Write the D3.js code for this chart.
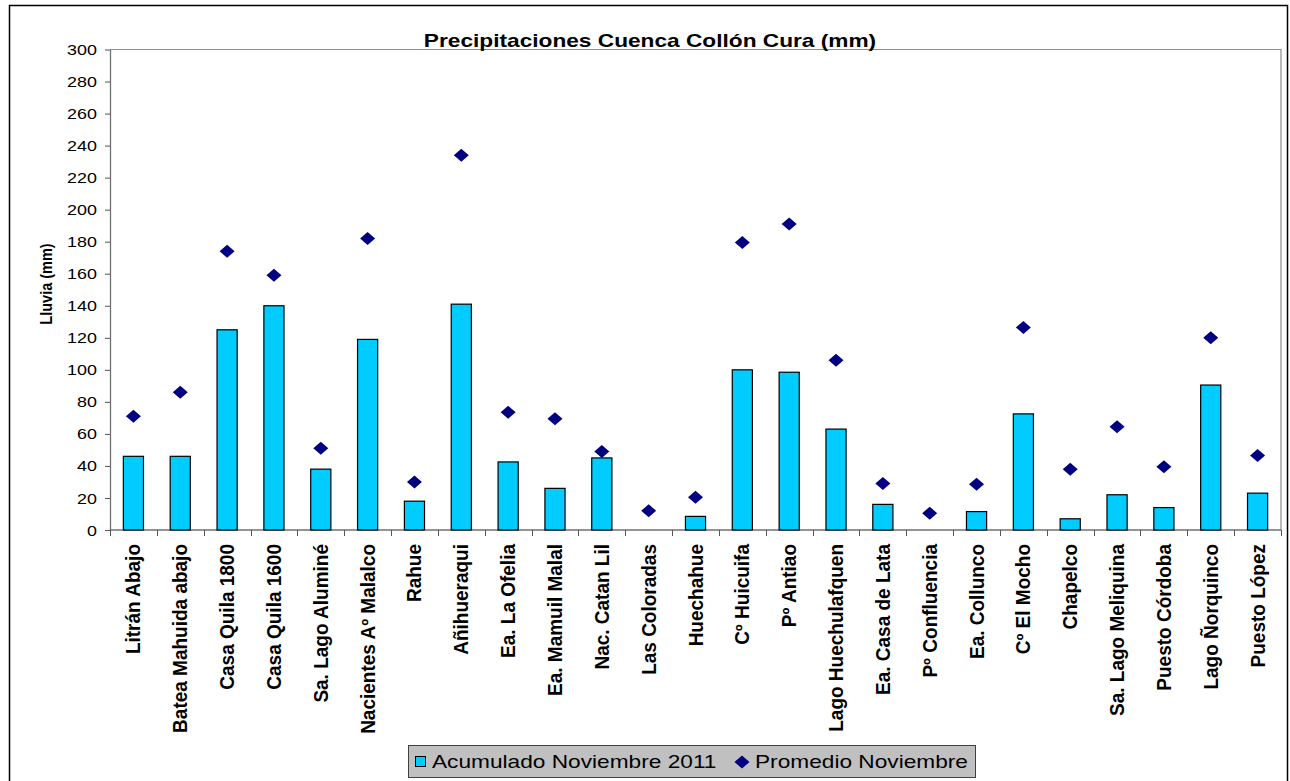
<!DOCTYPE html>
<html>
<head>
<meta charset="utf-8">
<script src="https://cdn.jsdelivr.net/npm/d3@7/dist/d3.min.js"></script>
<style>
  body { margin: 0; background: #fff; }
  text { font-family: Arial, "Liberation Sans", sans-serif; fill: #000; }
</style>
</head>
<body>
<svg id="chart" width="1290" height="781"></svg>
<script>
// Stations of the Collón Cura basin
const stations = [
  "Litrán Abajo", "Batea Mahuida abajo", "Casa Quila 1800", "Casa Quila 1600",
  "Sa. Lago Aluminé", "Nacientes Aº Malalco", "Rahue", "Añihueraqui",
  "Ea. La Ofelia", "Ea. Mamuil Malal", "Nac. Catan Lil", "Las Coloradas",
  "Huechahue", "Cº Huicuifa", "Pº Antiao", "Lago Huechulafquen",
  "Ea. Casa de Lata", "Pº Confluencia", "Ea. Collunco", "Cº El Mocho",
  "Chapelco", "Sa. Lago Meliquina", "Puesto Córdoba", "Lago Ñorquinco", "Puesto López"
];

// Accumulated rainfall, November 2011 (mm); null = no bar
const acumulado = [
  46, 46, 125, 140, 38, 119, 18, 141, 42.5, 26, 45, null,
  8.5, 100, 98.5, 63, 16, null, 11.5, 72.5, 7, 22, 14, 90.5, 23
];

// Historical November average (mm)
const promedio = [
  71, 86, 174, 159, 51, 182, 30, 234, 73.5, 69.5, 49, 12,
  20.5, 179.5, 191, 106, 29, 10.5, 28.5, 126.5, 38, 64.5, 39.5, 120, 46.5
];

const yTicks = [0, 20, 40, 60, 80, 100, 120, 140, 160, 180, 200, 220, 240, 260, 280, 300];

const seriesNames = ["Acumulado Noviembre 2011", "Promedio Noviembre"];
const title = "Precipitaciones Cuenca Collón Cura (mm)";
const yLabel = "Lluvia (mm)";

const svg = d3.select("#chart");

const plot = { left: 110, right: 1281, top: 49.5, bottom: 530 };

// Outer chart frame
svg.append("rect")
  .attr("x", 9.5).attr("y", 5.5)
  .attr("width", 1278).attr("height", 820)
  .attr("fill", "#fff").attr("stroke", "#000").attr("stroke-width", 1.5);

const x = d3.scaleBand()
  .domain(stations)
  .range([plot.left, plot.right])
  .paddingInner(0.57)
  .paddingOuter(0.285);

const slot = d3.scaleBand()
  .domain(stations)
  .range([plot.left, plot.right])
  .padding(0);

const y = d3.scaleLinear()
  .domain([0, 300])
  .range([plot.bottom, plot.top]);

// Plot area border (top and right)
svg.append("path")
  .attr("d", `M${plot.left},${plot.top}H${plot.right}V${plot.bottom}`)
  .attr("fill", "none").attr("stroke", "#8c8c8c").attr("stroke-width", 1.2);

// Y axis
const yAxis = svg.append("g")
  .attr("transform", `translate(${plot.left},0)`)
  .call(d3.axisLeft(y).tickValues(yTicks).tickSize(5).tickSizeOuter(0));
yAxis.select(".domain").attr("stroke", "#707070").attr("stroke-width", 1.3);
yAxis.selectAll(".tick line").attr("stroke", "#555");
yAxis.selectAll(".tick text")
  .attr("x", null)
  .attr("dy", "0.36em")
  .attr("text-anchor", "end")
  .attr("font-size", 14)
  .attr("font-family", "Arial, 'Liberation Sans', sans-serif")
  .attr("fill", "#000")
  .attr("transform", "translate(-13,0) scale(1.28,1)");

// X axis baseline and category boundary ticks
svg.append("line")
  .attr("x1", plot.left).attr("x2", plot.right)
  .attr("y1", y(0)).attr("y2", y(0))
  .attr("stroke", "#707070").attr("stroke-width", 1.3);

const boundaries = stations.map(s => slot(s)).concat([slot.range()[1]]);
svg.append("g").selectAll("line")
  .data(boundaries)
  .join("line")
  .attr("x1", d => Math.round(d) + 0.5).attr("x2", d => Math.round(d) + 0.5)
  .attr("y1", y(0)).attr("y2", y(0) + 6)
  .attr("stroke", "#555");

// Bars: accumulated rainfall
svg.append("g").selectAll("rect")
  .data(stations.map((s, i) => ({ s, v: acumulado[i] })).filter(d => d.v != null && d.v > 0))
  .join("rect")
  .attr("x", d => x(d.s))
  .attr("y", d => y(d.v))
  .attr("width", x.bandwidth())
  .attr("height", d => y(0) - y(d.v))
  .attr("fill", "#00ccff")
  .attr("stroke", "#000")
  .attr("stroke-width", 1.2);

// Diamonds: November average
const diamond = "M0,-6.5L7.5,0L0,6.5L-7.5,0Z";
svg.append("g").selectAll("path")
  .data(stations.map((s, i) => ({ s, v: promedio[i] })))
  .join("path")
  .attr("d", diamond)
  .attr("transform", d => `translate(${x(d.s) + x.bandwidth() / 2},${y(d.v)})`)
  .attr("fill", "#000080");

// Category labels, rotated
svg.append("g").selectAll("text")
  .data(stations)
  .join("text")
  .attr("transform", d => `translate(${x(d) + x.bandwidth() / 2 + 7},544) scale(1.05,1) rotate(-90)`)
  .attr("text-anchor", "end")
  .attr("font-size", 19)
  .attr("font-weight", "bold")
  .text(d => d);

// Title
svg.append("g")
  .attr("transform", "translate(650,47)")
  .append("text")
  .attr("text-anchor", "middle")
  .attr("font-size", 18)
  .attr("font-weight", "bold")
  .attr("transform", "scale(1.26,1)")
  .text(title);

// Y axis title
svg.append("text")
  .attr("transform", "translate(52,284) scale(1.2,1) rotate(-90)")
  .attr("text-anchor", "middle")
  .attr("font-size", 14.5)
  .attr("font-weight", "bold")
  .text(yLabel);

// Legend
const legend = svg.append("g");
legend.append("rect")
  .attr("x", 408.5).attr("y", 745.5)
  .attr("width", 567).attr("height", 32)
  .attr("fill", "#c0c0c0").attr("stroke", "#404040").attr("stroke-width", 1);
legend.append("rect")
  .attr("x", 415.5).attr("y", 756.5)
  .attr("width", 10).attr("height", 10)
  .attr("fill", "#00ccff").attr("stroke", "#000");
legend.append("g").attr("transform", "translate(432,768)")
  .append("text")
  .attr("font-size", 18)
  .attr("transform", "scale(1.26,1)")
  .text(seriesNames[0]);
legend.append("path")
  .attr("d", diamond)
  .attr("transform", "translate(742,762)")
  .attr("fill", "#000080");
legend.append("g").attr("transform", "translate(755,768)")
  .append("text")
  .attr("font-size", 18)
  .attr("transform", "scale(1.26,1)")
  .text(seriesNames[1]);
</script>
</body>
</html>
